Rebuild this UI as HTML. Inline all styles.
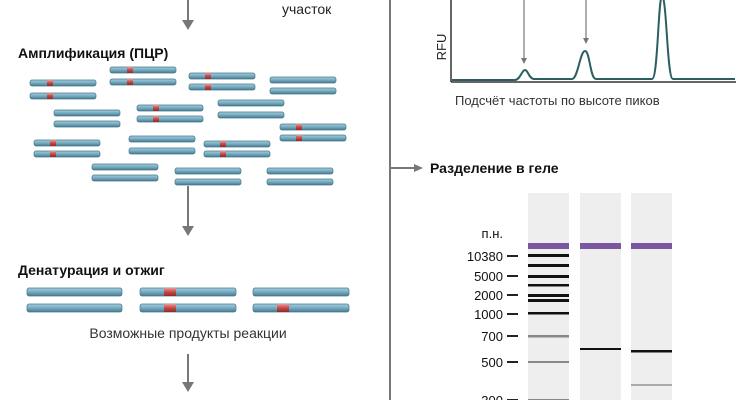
<!DOCTYPE html>
<html><head><meta charset="utf-8"><style>
body{margin:0;width:747px;height:400px;background:#fff;position:relative;overflow:hidden;font-family:"Liberation Sans","DejaVu Sans",sans-serif;}
</style></head><body>
<svg width="747" height="400" viewBox="0 0 747 400" xmlns="http://www.w3.org/2000/svg" style="position:absolute;left:0;top:0">
<defs>
<linearGradient id="bar" x1="0" y1="0" x2="0" y2="1"><stop offset="0" stop-color="#a4cddc"/><stop offset="0.5" stop-color="#76aac0"/><stop offset="1" stop-color="#457b90"/></linearGradient>
<linearGradient id="red" x1="0" y1="0" x2="0" y2="1"><stop offset="0" stop-color="#e79a9a"/><stop offset="0.5" stop-color="#c64848"/><stop offset="1" stop-color="#8e2a2a"/></linearGradient>
</defs>
<g font-family="Liberation Sans, sans-serif">
<g stroke="#777" stroke-width="2" fill="none">
<line x1="188" y1="0" x2="188" y2="22"/><line x1="188" y1="186" x2="188" y2="228"/><line x1="188" y1="354" x2="188" y2="384"/>
</g>
<g fill="#777"><path d="M182,20 L194,20 L188,30 Z"/><path d="M182,226 L194,226 L188,236 Z"/><path d="M182,382 L194,382 L188,392 Z"/></g>
<text x="282" y="14" font-size="14" fill="#222">участок</text>
<text x="18" y="58" font-size="14" font-weight="bold" fill="#111">Амплификация (ПЦР)</text>
<text x="18" y="275" font-size="14" font-weight="bold" fill="#111">Денатурация и отжиг</text>
<text x="188" y="338" font-size="14" fill="#333" text-anchor="middle">Возможные продукты реакции</text>
<line x1="390" y1="0" x2="390" y2="400" stroke="#777" stroke-width="2"/>
<line x1="390" y1="168" x2="416" y2="168" stroke="#777" stroke-width="2"/>
<path d="M414,164 L423,168 L414,172 Z" fill="#777"/>
<text x="430" y="173" font-size="14" font-weight="bold" fill="#111">Разделение в геле</text>
<line x1="451" y1="0" x2="451" y2="82" stroke="#333" stroke-width="1.5"/>
<line x1="451" y1="82" x2="736" y2="82" stroke="#333" stroke-width="1.5"/>
<path d="M452,80 L515,80 C520,80 522,70 525,70 C528,70 529,79 534,79 L572,79 C578,79 580,51 585,51 C590,51 590,79 596,79 L652,79 C658,79 658,0 662,-5 C667,0 667,79 673,79 L735,79" fill="none" stroke="#2d5f62" stroke-width="2"/>
<g stroke="#777" stroke-width="1.2"><line x1="524" y1="0" x2="524" y2="60"/><line x1="586" y1="0" x2="586" y2="40"/></g>
<g fill="#777"><path d="M521,58 L527,58 L524,64 Z"/><path d="M583,38 L589,38 L586,44 Z"/></g>
<text transform="translate(446,47) rotate(-90)" font-size="13" fill="#222" text-anchor="middle">RFU</text>
<text x="455" y="105" font-size="13" fill="#333">Подсчёт частоты по высоте пиков</text>
<rect x="528" y="193" width="41" height="207" fill="#eeeeee"/>
<rect x="580" y="193" width="41" height="207" fill="#eeeeee"/>
<rect x="631" y="193" width="41" height="207" fill="#eeeeee"/>
<g fill="#7a58a0"><rect x="528" y="243" width="41" height="6"/><rect x="580" y="243" width="41" height="6"/><rect x="631" y="243" width="41" height="6"/></g>
<g fill="#111"><rect x="528" y="254" width="41" height="3"/><rect x="528" y="264" width="41" height="3"/><rect x="528" y="275" width="41" height="3"/><rect x="528" y="284" width="41" height="2.5"/><rect x="528" y="294" width="41" height="3"/><rect x="528" y="299" width="41" height="3"/><rect x="528" y="312" width="41" height="2.5"/>
<rect x="580" y="348" width="41" height="2"/><rect x="631" y="350" width="41" height="2.5"/></g>
<g fill="#888"><rect x="528" y="335" width="41" height="2.5"/><rect x="528" y="361" width="41" height="2"/><rect x="528" y="399" width="41" height="2"/><rect x="631" y="384" width="41" height="2" fill="#aaa"/></g>
<g font-size="13" fill="#111" text-anchor="end">
<text x="503" y="238">п.н.</text><text x="503" y="261">10380</text><text x="503" y="281">5000</text><text x="503" y="300">2000</text><text x="503" y="319">1000</text><text x="503" y="341">700</text><text x="503" y="367">500</text><text x="503" y="405">300</text>
</g>
<g stroke="#222" stroke-width="2"><line x1="507" y1="256" x2="518" y2="256"/><line x1="507" y1="276" x2="518" y2="276"/><line x1="507" y1="295" x2="518" y2="295"/><line x1="507" y1="314" x2="518" y2="314"/><line x1="507" y1="336" x2="518" y2="336"/><line x1="507" y1="362" x2="518" y2="362"/><line x1="507" y1="400" x2="518" y2="400"/></g>
</g>
<g id="pairs"></g>
</svg>
<script>
var s='http://www.w3.org/2000/svg',g=document.getElementById('pairs');
function bar(x,y,w,h,r){var e=document.createElementNS(s,'rect');e.setAttribute('x',x);e.setAttribute('y',y);e.setAttribute('width',w);e.setAttribute('height',h);e.setAttribute('rx',2);e.setAttribute('fill','url(#bar)');e.setAttribute('stroke','#44778a');e.setAttribute('stroke-width','0.7');g.appendChild(e);
if(r!=null){var q=document.createElementNS(s,'rect');q.setAttribute('x',r);q.setAttribute('y',y);q.setAttribute('width',h>7?12:6);q.setAttribute('height',h);q.setAttribute('fill','url(#red)');g.appendChild(q);}}
var P=[[30,83,96,47],[110,70,82,127],[189,76,87,205],[270,80,91,null],[54,113,124,null],[137,108,119,153],[218,103,115,null],[280,127,138,296],[34,143,154,50],[129,139,151,null],[204,144,154,220],[92,167,178,null],[175,171,182,null],[267,171,182,null]];
P.forEach(function(p){bar(p[0],p[1]-3,66,6,p[3]);bar(p[0],p[2]-3,66,6,p[3]);});
bar(27,288,95,8,null);bar(27,304,95,8,null);
bar(140,288,96,8,164);bar(140,304,96,8,164);
bar(253,288,96,8,null);bar(253,304,96,8,277);
</script>
</body></html>
